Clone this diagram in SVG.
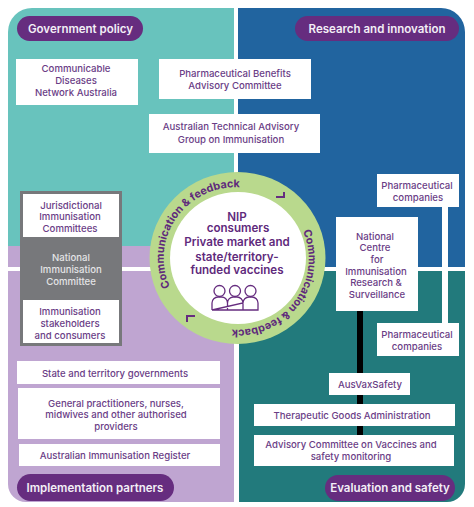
<svg xmlns="http://www.w3.org/2000/svg" width="474" height="507" viewBox="0 0 474 507">
<style>
.b{fill:#fff}
text{font-family:Inter,"Liberation Sans",sans-serif;text-anchor:middle}
.t{font-size:9.6px;font-weight:500;fill:#6a3d86}
.g{font-size:9.6px;font-weight:500;fill:#e4e4e6}
.p{fill:#662d7f}
.h{font-size:11.500px;font-weight:600;fill:#f3eff6}
.c{font-size:11.600px;font-weight:600;fill:#5f2a7c}
.r{font-size:10.800px;font-weight:700;fill:#5f2a7c;text-anchor:start}
.i{fill:none;stroke:#662d7f;stroke-width:1.3}
</style>
<defs>
<path id="a1" d="M170 287A73 71 0 0 1 248 188"/>
<path id="a2" d="M303 231A72 71 0 0 1 226 329"/>
</defs>
<g id="panels">
<path d="M8 246V32A24 24 0 0 1 32 8H234V246Z" fill="#68c3bd"/>
<path d="M238 267V8H441A24 24 0 0 1 465 32V267Z" fill="#21649f"/>
<path d="M8 246H234V267H8ZM8 271H234V502H26A18 18 0 0 1 8 484Z" fill="#bfa5d1"/>
<path d="M239 271H465V484A18 18 0 0 1 447 502H239Z" fill="#227a7c"/>
</g>
<g id="connectors">
<rect x="442" y="207" width="6" height="116" fill="#fff"/>
<rect x="357" y="311" width="6" height="124" fill="#000"/>
</g>
<g id="government-policy"><rect class="p" x="17" y="16" width="126" height="25" rx="12.500"/><text class="h" x="80.500" y="33">Government policy</text></g>
<g id="research-and-innovation"><rect class="p" x="295" y="16" width="164" height="25" rx="12.500"/><text class="h" x="377" y="33">Research and innovation</text></g>
<g id="implementation-partners"><rect class="p" x="17" y="474" width="157" height="27" rx="13.500"/><text class="h" x="95" y="492">Implementation partners</text></g>
<g id="evaluation-and-safety"><rect class="p" x="325" y="475" width="130" height="26" rx="13"/><text class="h" x="390" y="492">Evaluation and safety</text></g>
<g id="cdna"><rect class="b" x="16" y="59" width="122" height="46"/><text class="t" x="76" y="72">Communicable</text><text class="t" x="76" y="84">Diseases</text><text class="t" x="76" y="96">Network Australia</text></g>
<g id="pbac"><rect class="b" x="159" y="59" width="152" height="40"/><text class="t" x="235" y="77">Pharmaceutical Benefits</text><text class="t" x="235" y="89">Advisory Committee</text></g>
<g id="atagi"><rect class="b" x="149" y="114" width="171" height="39"/><text class="t" x="231" y="130">Australian Technical Advisory</text><text class="t" x="231" y="143">Group on Immunisation</text></g>
<g id="nic"><rect x="20" y="191" width="102" height="155" fill="#77787b"/><text class="g" x="71" y="261">National</text><text class="g" x="71" y="273">Immunisation</text><text class="g" x="71" y="285">Committee</text></g>
<g id="jic"><rect class="b" x="23" y="194" width="96" height="43"/><text class="t" x="71" y="209">Jurisdictional</text><text class="t" x="70" y="220">Immunisation</text><text class="t" x="70" y="232">Committees</text></g>
<g id="stakeholders"><rect class="b" x="23" y="300" width="96" height="43"/><text class="t" x="70" y="315">Immunisation</text><text class="t" x="70" y="327">stakeholders</text><text class="t" x="70" y="339">and consumers</text></g>
<g id="pharma-1"><rect class="b" x="377" y="174" width="82" height="33"/><text class="t" x="417" y="189">Pharmaceutical</text><text class="t" x="418" y="201">companies</text></g>
<g id="ncirs"><rect class="b" x="336" y="217" width="82" height="94"/><text class="t" x="375" y="240">National</text><text class="t" x="375" y="251">Centre</text><text class="t" x="377" y="263">for</text><text class="t" x="376" y="275">Immunisation</text><text class="t" x="376" y="286">Research &amp;</text><text class="t" x="377" y="298">Surveillance</text></g>
<g id="pharma-2"><rect class="b" x="377" y="323" width="82" height="33"/><text class="t" x="417" y="338">Pharmaceutical</text><text class="t" x="417" y="350">companies</text></g>
<g id="ausvax"><rect class="b" x="329" y="373" width="81" height="22"/><text class="t" x="370" y="388">AusVaxSafety</text></g>
<g id="tga"><rect class="b" x="254" y="404" width="201" height="22"/><text class="t" x="352" y="419">Therapeutic Goods Administration</text></g>
<g id="acv"><rect class="b" x="254" y="435" width="200" height="31"/><text class="t" x="351" y="448">Advisory Committee on Vaccines and</text><text class="t" x="351" y="460">safety monitoring</text></g>
<g id="state"><rect class="b" x="17" y="361" width="203" height="23"/><text class="t" x="115" y="377">State and territory governments</text></g>
<g id="gp"><rect class="b" x="18" y="388" width="202" height="51"/><text class="t" x="116" y="407">General practitioners, nurses,</text><text class="t" x="116" y="418">midwives and other authorised</text><text class="t" x="116" y="430">providers</text></g>
<g id="air"><rect class="b" x="19" y="444" width="201" height="22"/><text class="t" x="115" y="459">Australian Immunisation Register</text></g>
<g id="nip-consumers">
<ellipse cx="237.500" cy="258" rx="88" ry="86" fill="#b9d98d"/>
<ellipse cx="238" cy="258" rx="68" ry="66" fill="#fff"/>
<text class="r"><textPath href="#a1">Communication &amp; feedback</textPath></text>
<text class="r"><textPath href="#a2">Communication &amp; feedback</textPath></text>
<path d="M284 192V197H276M187 322V316H195" fill="none" stroke="#662d7f" stroke-width="2"/>
<text class="c" x="237" y="221">NIP</text>
<text class="c" x="238" y="232">consumers</text>
<text class="c" x="237" y="246">Private market and</text>
<text class="c" x="237" y="261">state/territory-</text>
<text class="c" x="237" y="274">funded vaccines</text>
<circle class="i" cx="219.500" cy="291" r="5.500"/><circle class="i" cx="235" cy="291" r="5.500"/><circle class="i" cx="250.500" cy="291" r="5.500"/>
<path class="i" d="M212 310V303A6 6 0 0 1 218 297H221A6 6 0 0 1 227.500 303V310M227.500 303A6 6 0 0 1 233 297H237A6 6 0 0 1 243 303V310M243 303A6 6 0 0 1 249 297H252A6 6 0 0 1 258 303V310H212Z"/>
</g>
</svg>
